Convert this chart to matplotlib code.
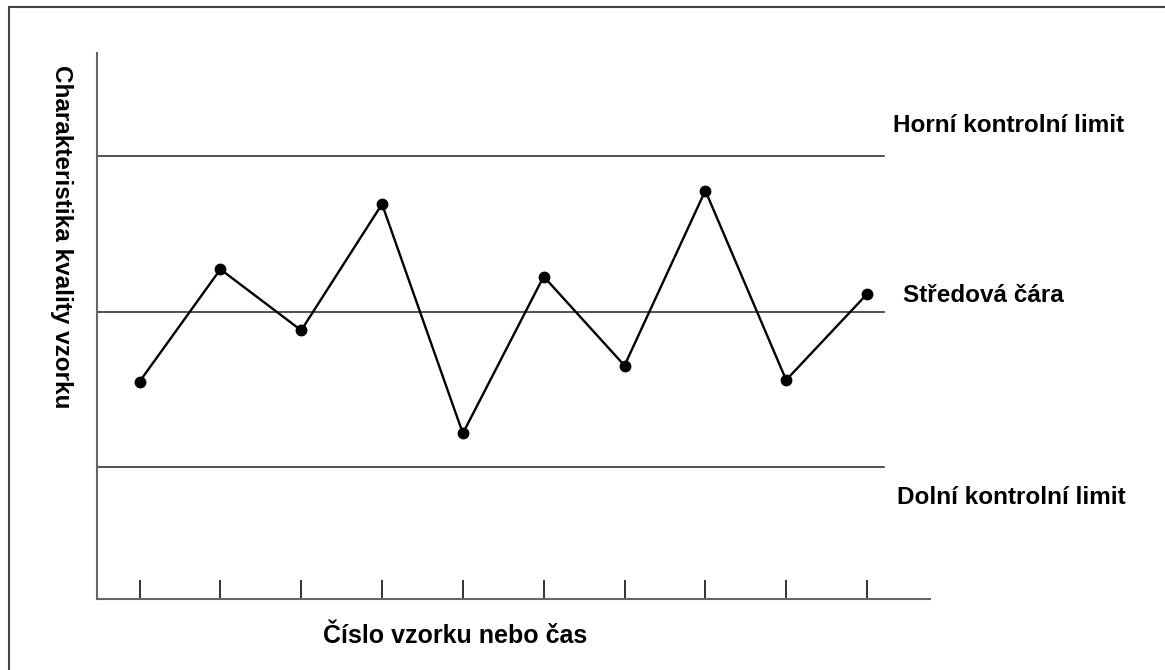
import matplotlib.pyplot as plt
from matplotlib.patches import Rectangle

samples = [1, 2, 3, 4, 5, 6, 7, 8, 9, 10]
values = [-1.35, 0.82, -0.36, 2.08, -2.35, 0.68, -1.04, 2.34, -1.32, 0.34]
center = 0.0
ucl = 3.0
lcl = -3.0

plt.rcParams['font.family'] = ['Liberation Sans', 'DejaVu Sans']

fig = plt.figure(figsize=(11.65, 6.7), dpi=100)
ax = fig.add_axes([0.0833, 0.106, 0.715, 0.815])

# control limits and center line
for y in (ucl, center, lcl):
    ax.axhline(y, xmin=0, xmax=0.945, color="#222222", lw=1.1)

ax.plot(samples, values, color="black", lw=1.7, marker="o", markersize=7.5)

ax.set_xlim(0.474, 10.78)
ax.set_ylim(-5.55, 5)
ax.set_xticks(samples)
ax.set_xticklabels([])
ax.set_yticks([])
ax.tick_params(axis="x", direction="in", length=14, width=1.3, color="#222222")

for s in ("top", "right"):
    ax.spines[s].set_visible(False)
for s in ("left", "bottom"):
    ax.spines[s].set_color("#666666")
    ax.spines[s].set_linewidth(1.5)

lab = dict(fontsize=17.5, fontweight="bold", color="black", clip_on=False)
ax.text(10.325, ucl + 0.6, "Horní kontrolní limit", va="center", ha="left", **lab)
ax.text(10.44, center + 0.32, "Středová čára", va="center", ha="left", **lab)
ax.text(10.375, lcl - 0.58, "Dolní kontrolní limit", va="center", ha="left", **lab)

fig.text(0.3906, 0.051, "Číslo vzorku nebo čas", ha="center", va="center",
         fontsize=18, fontweight="bold")
fig.text(0.0532, 0.646, "Charakteristika kvality vzorku", rotation=-90,
         ha="center", va="center", fontsize=17.5, fontweight="bold")

# frame: only top and left edges fall inside the picture
fig.patches.append(Rectangle((0.008, -0.2), 1.2, 1.189, transform=fig.transFigure,
                             fill=False, edgecolor="#444444", lw=1.5))

fig.savefig("out.png", dpi=100)
